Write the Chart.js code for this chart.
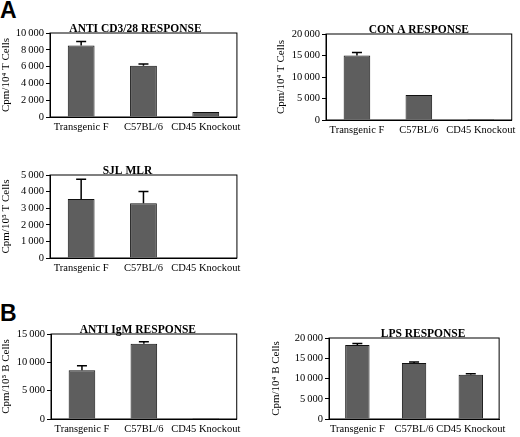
<!DOCTYPE html>
<html>
<head>
<meta charset="utf-8">
<script src="https://cdn.jsdelivr.net/npm/chart.js@4.4.1/dist/chart.umd.min.js"></script>
<style>
  body { margin: 0; background: #fff; }
  #wrap { position: relative; width: 520px; height: 437px; overflow: hidden; }
  .panel { position: absolute; }
  .letter { position: absolute; font: bold 23px "Liberation Sans", Arial, sans-serif; color: #000; }
</style>
</head>
<body>
<div id="wrap">
  <div class="letter" style="left:0px; top:-3px;">A</div>
  <div class="letter" style="left:0px; top:300px;">B</div>
  <div class="panel" style="left:0px; top:17px; width:245px; height:123px;"><canvas id="c1"></canvas></div>
  <div class="panel" style="left:270px; top:18px; width:250px; height:124px;"><canvas id="c2"></canvas></div>
  <div class="panel" style="left:0px; top:159px; width:245px; height:122px;"><canvas id="c3"></canvas></div>
  <div class="panel" style="left:0px; top:318px; width:245px; height:119px;"><canvas id="c4"></canvas></div>
  <div class="panel" style="left:270px; top:322px; width:240px; height:115px;"><canvas id="c5"></canvas></div>
</div>
<script>
const strains = ['Transgenic F', 'C57BL/6', 'CD45 Knockout'];

const cd328Values = [8500, 6100, 600];
const cd328Errors = [500, 200, 0];

const conAValues = [15000, 5800, 250];
const conAErrors = [700, 0, 0];

const sjlValues = [3550, 3300, 0];
const sjlErrors = [1200, 700, 0];

const igmValues = [8600, 13300, 180];
const igmErrors = [800, 350, 0];

const lpsValues = [18300, 13800, 10900];
const lpsErrors = [350, 250, 300];

const serif = '"Liberation Serif", "Times New Roman", serif';

// title sitting on the box, upward error bars, box round the plot area
const panelDecor = {
    id: 'panelDecor',
    afterDatasetsDraw(chart, args, opts) {
        const ctx = chart.ctx;
        const y = chart.scales.y;
        const meta = chart.getDatasetMeta(0);
        const a = chart.chartArea;
        ctx.save();
        ctx.strokeStyle = '#000';
        ctx.lineWidth = 1.5;
        opts.errors.forEach((err, i) => {
            if (!err) return;
            const bar = meta.data[i];
            const v = chart.data.datasets[0].data[i];
            const top = y.getPixelForValue(v + err);
            ctx.beginPath();
            ctx.moveTo(bar.x, bar.y);
            ctx.lineTo(bar.x, top);
            ctx.moveTo(bar.x - 5, top);
            ctx.lineTo(bar.x + 5, top);
            ctx.stroke();
        });
        ctx.lineWidth = 1;
        ctx.strokeRect(a.left, a.top, a.right - a.left, a.bottom - a.top);

        ctx.fillStyle = '#000';
        ctx.font = 'bold 11.5px ' + serif;
        ctx.textAlign = 'center';
        ctx.textBaseline = 'alphabetic';
        ctx.fillText(opts.title, (a.left + a.right) / 2 + opts.titleShift, a.top - 1);
        ctx.restore();
    }
};

function fmt(v) {
    return v.toString().replace(/\B(?=(\d{3})+(?!\d))/g, '\u2009');
}

function makeChart(id, title, titleShift, yTitle, yTitlePad, values, errors, max, step, yWidth, xHeight) {
    return new Chart(document.getElementById(id), {
        type: 'bar',
        data: {
            labels: strains,
            datasets: [{
                data: values,
                backgroundColor: '#5e5e5e',
                borderColor: '#111',
                borderWidth: 1,
                barPercentage: 0.43,
                categoryPercentage: 1
            }]
        },
        options: {
            responsive: true,
            maintainAspectRatio: false,
            animation: false,
            layout: { padding: { top: 16, right: 4, left: 0, bottom: 0 } },
            scales: {
                x: {
                    grid: { display: false, drawTicks: false },
                    border: { color: '#000' },
                    ticks: { color: '#000', font: { family: serif, size: 10.5 }, maxRotation: 0, autoSkip: false, padding: 4 },
                    afterFit(scale) { scale.height = xHeight; }
                },
                y: {
                    min: 0,
                    max: max,
                    grid: { display: true, drawOnChartArea: false, tickLength: 4, color: '#000' },
                    border: { color: '#000' },
                    ticks: { stepSize: step, color: '#000', font: { family: serif, size: 10.5 }, padding: 2, callback: v => fmt(v) },
                    title: { display: true, text: yTitle, color: '#000', font: { family: serif, size: 11 }, padding: { top: yTitlePad, bottom: 0 } },
                    afterFit(scale) { scale.width = yWidth; }
                }
            },
            plugins: {
                legend: { display: false },
                tooltip: { enabled: false },
                title: { display: false },
                panelDecor: { errors: errors, title: title, titleShift: titleShift }
            }
        },
        plugins: [panelDecor]
    });
}

makeChart('c1', 'ANTI CD3/28 RESPONSE', -8, 'Cpm/10\u2074 T Cells', 0, cd328Values, cd328Errors, 10000, 2000, 50, 23);
makeChart('c2', 'CON A RESPONSE', 0, 'Cpm/10\u2074 T Cells', 5, conAValues, conAErrors, 20000, 5000, 56, 22);
makeChart('c3', 'SJL MLR', -16, 'Cpm/10\u2075 T Cells', 0, sjlValues, sjlErrors, 5000, 1000, 50, 23);
makeChart('c4', 'ANTI IgM RESPONSE', -6, 'Cpm/10\u2075 B Cells', 0, igmValues, igmErrors, 15000, 5000, 51, 18);
makeChart('c5', 'LPS RESPONSE', 9, 'Cpm/10\u2074 B Cells', 0, lpsValues, lpsErrors, 20000, 5000, 59, 18);
</script>
</body>
</html>
